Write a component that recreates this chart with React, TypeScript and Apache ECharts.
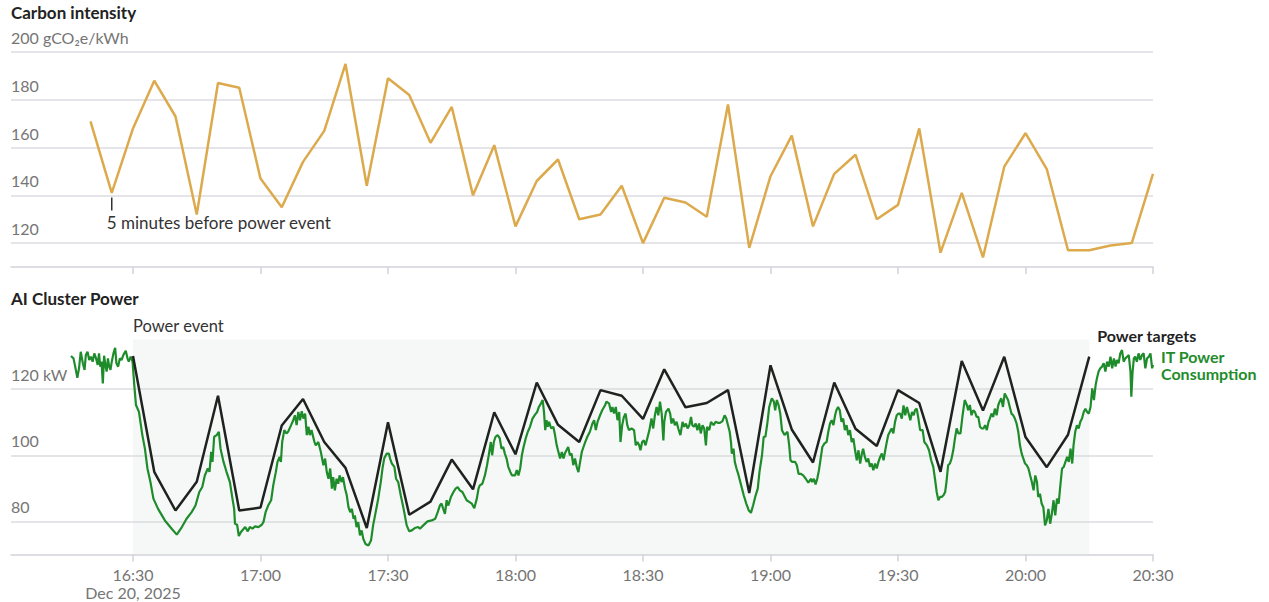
import React, { useEffect, useRef } from 'react';
import * as echarts from 'echarts';

// ---- time helpers (minutes relative to 16:30, Dec 20 2025) ----
const BASE = new Date(2025, 11, 20, 16, 30, 0).getTime();
const toTime = (m: number) => BASE + m * 60000;

// ---- axis ticks ----
const xTickMinutes = [0, 30, 60, 90, 120, 150, 180, 210, 240];
const carbonTicks = [120, 140, 160, 180, 200];
const powerTicks = [80, 100, 120];

// ---- Carbon intensity (gCO2e/kWh), every 5 minutes from 16:20 ----
const carbonStartMinute = -10;
const carbonStepMinutes = 5;
const carbonValues = [
  171, 141, 168, 188, 173, 132, 187, 185, 147, 135,
  154, 167, 195, 144, 189, 182, 162, 177, 140, 161,
  127, 146, 155, 130, 132, 144, 120, 139, 137, 131,
  178, 118, 148, 165, 127, 149, 157, 130, 136, 168,
  116, 141, 114, 152, 166, 151, 117, 117, 119, 120,
  149,
];

// ---- Power targets (kW), every 5 minutes from 16:30 ----
const targetStartMinute = 0;
const targetStepMinutes = 5;
const targetValues = [
  130, 95, 83.3, 92, 118, 83.3, 84.2, 109, 117, 104,
  96.2, 78, 110, 82, 86, 98.7, 89.7, 113, 100.3, 122,
  109.2, 104, 119.7, 118, 111, 126, 114.5, 115.8, 119.7, 88.6,
  127.2, 107.8, 97.8, 122, 108, 102.8, 119.7, 115.8, 95, 128.5,
  113.5, 129.8, 105.5, 96.4, 106.2, 129.8,
];

// ---- IT power consumption (kW): [minutes from 16:30, kW] ----
const itPower: [number, number][] = [
  [-14.6,130.0],[-14.0,129.3],[-13.6,126.8],[-13.1,123.4],[-12.7,126.3],[-12.3,131.3],[-11.8,127.8],[-11.4,125.8],[-11.1,130.3],[-10.7,131.3],
  [-10.3,128.8],[-9.9,129.8],[-9.5,128.3],[-9.1,130.8],[-8.7,129.3],[-8.3,127.3],[-8.0,130.8],[-7.7,126.8],[-7.4,128.3],[-7.1,121.7],
  [-6.8,130.1],[-6.5,127.3],[-6.2,125.3],[-5.9,129.3],[-5.6,126.8],[-5.3,125.8],[-5.0,128.3],[-4.6,130.8],[-4.2,132.5],[-3.9,127.8],
  [-3.5,126.8],[-3.1,129.3],[-2.7,128.8],[-2.2,130.5],[-1.7,131.6],[-1.3,129.3],[-1.0,128.3],[-0.55,129.8],[-0.1,128.3],[0.3,121.2],
  [0.7,115.2],[1.4,113.1],[2.2,106.1],[2.8,102.0],[3.4,96.0],[4.1,91.9],[4.8,86.9],[5.9,83.8],[7.5,80.3],[9.1,77.8],
  [10.3,76.0],[11.5,78.3],[12.6,80.8],[13.8,82.8],[14.7,84.8],[15.6,88.9],[16.3,90.4],[16.9,93.9],[17.6,96.0],[18.0,95.0],
  [18.4,101.0],[18.7,98.0],[19.1,105.6],[19.7,106.1],[20.2,107.1],[20.6,102.0],[21.3,98.0],[22.0,95.0],[22.8,91.9],[23.4,86.9],
  [23.8,83.8],[24.0,79.3],[24.5,79.0],[24.9,75.6],[25.4,76.8],
  [26.4,78.3],[27.0,77.0],[27.5,78.3],[28.1,77.8],[28.7,78.5],[29.5,78.3],[30.3,79.0],[30.7,79.8],[31.2,82.8],[31.8,84.8],
  [32.5,86.4],[33.0,90.9],[33.6,94.9],[34.0,98.0],[34.5,99.5],[34.8,98.0],[35.1,104.0],[35.6,107.6],[36.1,106.6],[36.5,107.1],
  [37.2,109.1],[37.7,110.6],[38.1,112.1],[38.5,109.1],[38.9,113.1],[39.3,110.6],[39.7,113.3],[40.1,111.1],[40.5,112.6],[40.9,106.1],
  [41.3,108.6],[41.6,106.1],[42.0,107.6],[42.7,104.0],[43.0,103.0],[43.6,104.0],[44.2,101.0],[44.8,97.0],[45.2,99.0],[45.6,94.9],
  [46.0,92.9],[46.4,96.0],[46.8,89.9],[47.1,93.4],[47.5,89.4],[47.9,92.9],[48.3,91.4],[48.6,93.9],[49.1,91.9],[49.4,93.4],
  [49.9,89.9],[50.3,87.9],[50.7,84.3],[51.1,82.8],[51.5,83.8],[51.9,80.8],[52.2,81.8],[52.6,78.3],[53.0,79.8],[53.4,75.8],
  [53.8,77.3],[54.2,74.7],[54.7,73.2],[55.4,72.7],[56.0,74.2],[56.5,78.8],[57.1,82.8],[57.7,86.9],[58.3,91.9],[58.7,96.0],
  [59.1,99.0],[59.7,100.5],[60.2,100.5],[60.5,99.0],[60.9,97.5],[61.5,96.5],[61.9,92.9],[62.4,91.9],[63.0,87.9],[63.6,84.3],
  [64.4,78.8],[65.0,77.0],[65.6,77.3],[66.3,78.0],[67.1,78.3],[67.5,77.8],[68.3,78.8],
  [69.3,80.0],[70.3,80.3],[71.1,80.8],[71.7,82.8],[72.2,84.8],[72.6,85.4],[73.0,83.8],[73.4,82.3],[73.8,86.4],[74.2,84.8],
  [74.8,87.4],[75.4,88.9],[75.9,89.9],[76.4,90.4],[76.9,89.4],[77.5,88.9],[77.9,87.9],[78.5,86.4],[79.1,85.9],[79.7,85.4],
  [80.3,84.0],[80.9,86.9],[81.3,89.9],[81.6,90.9],[82.2,91.4],[82.8,93.9],[83.3,97.0],[83.7,100.0],[84.2,104.0],[84.5,100.0],
  [84.9,104.0],[85.3,105.6],[85.8,106.1],[86.3,105.1],[86.7,102.0],[87.1,102.5],[87.5,100.5],[87.9,99.0],[88.3,96.5],[88.8,94.9],
  [89.2,93.9],[89.9,93.9],[90.3,95.5],[90.7,93.9],[91.1,96.0],[91.5,100.0],[91.9,102.5],[92.4,105.1],[92.9,107.1],[93.4,108.6],
  [94.0,111.1],[94.6,112.3],[95.1,113.1],[95.5,114.6],[96.0,115.7],[96.4,116.7],[96.7,113.1],[97.0,107.6],[97.3,110.6],[97.6,108.6],
  [97.9,110.1],[98.4,108.1],[98.9,108.6],[99.3,106.1],[99.7,103.0],[100.1,101.0],[100.5,99.0],[100.9,101.0],[101.3,99.0],[101.6,100.5],
  [102.0,101.5],[102.4,102.5],[102.8,100.0],[103.2,100.5],[103.6,97.0],[104.0,99.0],[104.4,96.5],[104.8,94.9],[105.2,98.0],[105.6,101.0],
  [106.0,102.5],[106.4,104.0],[106.9,105.6],[107.5,107.1],[108.1,109.6],[108.5,110.6],[108.9,107.6],[109.3,110.1],[109.9,112.1],[110.4,113.6],
  [111.1,115.2],[111.4,116.2],[112.0,115.7],[112.5,113.1],[112.8,114.6],[113.2,112.6],[113.6,114.6],[114.0,110.6],[114.4,113.1],[114.7,104.0],
  [115.1,109.1],[115.5,111.6],[115.9,112.6],[116.3,109.1],[116.7,107.6],[117.3,108.1],[117.9,107.6],[118.3,103.0],[118.7,104.0],[119.1,103.0],
  [119.4,101.5],[119.8,104.0],[120.2,104.5],[120.6,103.0],[121.0,105.1],[121.5,107.6],[122.0,111.1],[122.4,108.1],[122.8,112.1],[123.2,114.6],
  [123.6,112.1],[124.0,116.2],[124.4,112.6],[124.8,104.5],[125.0,110.1],[125.4,113.1],[126.0,114.1],[126.4,112.6],[126.7,109.6],[127.1,111.1],
  [127.5,109.1],[127.9,110.1],[128.3,108.1],[128.8,106.1],[129.3,110.1],[129.7,108.6],[130.1,109.6],[130.5,108.1],[130.9,109.1],[131.3,111.6],
  [131.6,109.1],[132.0,108.6],[132.4,109.6],[132.8,107.6],[133.2,109.6],[133.6,106.6],[134.0,109.1],[134.4,108.1],[134.8,103.0],[135.1,108.6],
  [135.6,107.6],[136.0,110.1],[136.6,109.1],[137.1,110.1],[137.6,109.8],[138.1,109.8],[138.7,110.3],[139.2,112.1],[139.6,111.1],[140.0,109.1],
  [140.4,107.1],[140.7,104.0],[140.9,100.5],[141.3,102.0],[141.6,98.0],[142.0,96.0],[142.5,93.9],[143.1,90.9],[143.7,87.9],[144.3,85.4],
  [144.9,83.3],[145.4,82.6],[145.9,84.8],[146.4,87.4],[147.0,89.9],[147.4,94.9],[148.0,100.0],[148.4,105.6],[148.8,105.6],[149.3,110.1],
  [149.7,114.6],[150.3,117.2],[150.8,116.2],[151.1,113.6],[151.5,116.7],[151.9,115.2],[152.3,112.6],[152.7,107.6],[153.3,106.1],
  [154.0,107.1],[154.4,103.0],[154.7,98.5],[155.1,98.0],[155.8,98.0],[156.2,97.0],[156.6,94.4],[157.1,94.4],[157.7,93.9],[158.3,92.9],
  [158.9,91.7],[159.5,92.9],[159.8,91.9],[160.2,92.9],[160.6,91.2],[161.0,92.9],[161.4,95.5],[161.8,99.0],[162.2,102.5],[162.7,103.6],
  [163.2,104.0],[163.6,107.1],[164.0,109.6],[164.4,110.6],[164.8,109.1],[165.2,112.1],[165.5,113.6],[165.9,114.6],[166.3,113.6],[166.7,110.1],
  [167.1,111.1],[167.5,107.6],[167.9,109.1],[168.3,106.1],[168.7,107.6],[169.1,104.0],[169.5,105.1],[169.9,101.5],[170.3,98.5],[170.7,101.5],
  [171.1,97.5],[171.5,100.5],[171.8,102.0],[172.2,99.5],[172.6,98.0],[173.0,99.0],[173.4,96.5],[173.8,97.5],[174.2,95.5],[174.6,97.5],
  [175.0,96.0],[175.4,98.0],[175.8,99.5],[176.2,100.5],[176.6,98.5],[177.0,101.5],[177.3,103.6],[177.7,106.1],[178.1,107.1],[178.5,108.1],
  [178.9,106.6],[179.3,110.1],[179.7,112.1],[180.1,112.6],[180.5,112.6],[180.9,111.1],[181.3,115.1],[181.7,112.1],[182.1,114.6],[182.5,112.6],
  [182.9,110.6],[183.3,113.1],[183.7,112.1],[184.0,113.6],[184.4,114.1],[184.8,111.1],[185.2,107.6],[185.8,107.6],[186.2,104.0],[186.8,103.0],
  [187.3,101.5],[187.8,98.5],[188.3,96.5],[188.7,92.9],[189.1,88.9],[189.5,86.4],[189.9,87.4],[190.3,87.4],[190.7,87.9],[191.1,88.9],
  [191.4,91.9],[191.8,97.0],[192.2,97.5],[192.6,99.0],[193.0,101.5],[193.4,105.1],[193.8,108.1],[194.2,106.6],[194.7,106.6],[195.2,112.1],
  [195.7,116.7],
  [196.2,115.2],[196.5,113.6],[196.9,115.2],[197.3,112.1],[197.7,113.6],[198.1,113.1],[198.5,111.6],[198.9,111.6],[199.3,108.6],[199.7,108.1],
  [200.1,108.1],[200.5,109.1],[200.9,107.6],[201.3,110.1],[201.6,111.1],[202.0,112.6],[202.4,111.6],[202.8,114.1],[203.2,112.1],[203.6,115.2],
  [203.9,116.2],[204.3,117.2],[204.7,114.6],[205.1,118.7],[205.5,117.7],[205.9,116.7],[206.3,114.6],[206.7,112.6],[207.1,112.1],[207.5,111.1],
  [207.9,109.6],[208.3,107.1],[208.7,103.0],[209.1,100.5],[209.5,99.0],[209.9,97.5],[210.3,97.0],[210.7,96.0],[211.1,93.9],[211.5,91.9],
  [211.9,89.4],[212.3,93.9],[212.7,91.9],[213.0,87.4],[213.4,88.4],[213.8,85.4],[214.2,84.3],[214.6,78.8],[215.0,80.3],[215.4,83.8],
  [215.8,79.3],[216.2,82.3],[216.6,86.4],[217.0,81.8],[217.4,86.9],[217.8,85.4],[218.2,90.9],[218.6,96.0],[219.0,96.5],[219.4,98.0],
  [219.8,99.5],[220.2,98.0],[220.6,102.0],[221.0,97.5],[221.3,103.0],[221.7,107.1],[222.1,109.1],[222.5,108.1],[222.9,110.1],[223.3,111.1],
  [223.7,113.1],[224.1,114.1],[224.5,113.1],[224.9,112.6],[225.3,114.6],[225.7,120.2],[226.1,116.7],[226.5,121.2],[226.8,123.2],[227.2,125.3],
  [227.6,126.3],[228.0,126.8],[228.4,127.8],[228.8,125.3],[229.2,128.3],[229.6,126.8],[230.0,129.8],[230.4,126.3],[230.8,129.3],[231.2,126.8],
  [231.5,128.8],[231.9,127.8],[232.3,130.8],[232.7,131.8],[233.1,128.3],[233.5,129.3],[233.9,129.8],[234.3,130.3],[234.7,125.3],[234.9,117.7],
  [235.2,125.3],[235.5,129.3],[235.8,129.8],[236.2,128.3],[236.6,130.8],[237.0,128.8],[237.4,130.3],[237.8,130.8],[238.2,126.3],[238.6,129.3],
  [239.0,129.8],[239.4,130.8],[239.8,126.3],[240.0,127.3],
];

// power event window (minutes from 16:30) and annotation
const powerEventStart = 0;
const powerEventEnd = 225;
const annotationMinute = -5;
const annotationValue = 141;

const FONT = 'Lato, "Noto Sans", "DejaVu Sans", sans-serif';
const GRID_COLOR = '#dcdce2';
const AXIS_COLOR = '#d2d2da';
const LABEL_COLOR = '#757575';
const CARBON_COLOR = '#dcaa4c';
const TARGET_COLOR = '#1f231f';
const GREEN = '#1f8c2c';

const pad2 = (n: number) => (n < 10 ? '0' + n : String(n));

export default function App() {
  const ref = useRef<HTMLDivElement>(null);

  useEffect(() => {
    document.body.style.margin = '0';
    if (!ref.current) return;
    const chart = echarts.init(ref.current, undefined, { renderer: 'svg' });

    const xMin = toTime(-28.706);
    const xMax = toTime(240);
    const xTicks = xTickMinutes.map(toTime);

    const carbonData = carbonValues.map((v, i) => [toTime(carbonStartMinute + i * carbonStepMinutes), v]);
    const targetData = targetValues.map((v, i) => [toTime(targetStartMinute + i * targetStepMinutes), v]);
    const greenData = itPower.map(([m, v]) => [toTime(m), v]);

    const timeFmt = (val: number) => {
      const d = new Date(val);
      const s = d.getHours() + ':' + pad2(d.getMinutes());
      return Math.abs(val - toTime(0)) < 1000 ? s + '\nDec 20, 2025' : s;
    };

    const xAxisCommon = {
      type: 'value',
      min: xMin,
      max: xMax,
      scale: true,
      axisLine: { show: true, onZero: false, lineStyle: { color: AXIS_COLOR, width: 1.5 } },
      axisTick: { show: true, length: 7, customValues: xTicks, lineStyle: { color: AXIS_COLOR, width: 1.5 } },
      splitLine: { show: false },
      minorTick: { show: false },
    };

    const yLabel = {
      inside: true,
      margin: 0,
      verticalAlign: 'bottom',
      padding: [0, 0, 6.5, 0],
      color: LABEL_COLOR,
      fontSize: 16,
      fontFamily: FONT,
    };

    const titleStyle = { fontSize: 17, fontWeight: 'bold', color: '#222', fontFamily: FONT };

    const option: any = {
      animation: false,
      textStyle: { fontFamily: FONT },
      title: [
        { text: 'Carbon intensity', left: 11, top: 4, padding: 0, textStyle: titleStyle },
        { text: 'AI Cluster Power', left: 11, top: 290, padding: 0, textStyle: titleStyle },
      ],
      grid: [
        { left: 11, right: 116, top: 52, height: 215 },
        { left: 11, right: 116, top: 339.5, height: 215 },
      ],
      xAxis: [
        { ...xAxisCommon, gridIndex: 0, axisLabel: { show: false } },
        {
          ...xAxisCommon,
          gridIndex: 1,
          axisLabel: {
            show: true,
            customValues: xTicks,
            formatter: timeFmt,
            color: LABEL_COLOR,
            fontSize: 16,
            lineHeight: 18,
            margin: 10.5,
            fontFamily: FONT,
          },
        },
      ],
      yAxis: [
        {
          type: 'value',
          gridIndex: 0,
          min: 110,
          max: 200,
          axisLine: { show: false },
          axisTick: { show: false, customValues: carbonTicks },
          axisLabel: {
            ...yLabel,
            customValues: carbonTicks,
            formatter: (v: number) => (v === 200 ? '200 gCO₂e/kWh' : String(v)),
          },
          splitLine: { show: true, lineStyle: { color: GRID_COLOR, width: 1.5 } },
        },
        {
          type: 'value',
          gridIndex: 1,
          min: 70,
          max: 135,
          axisLine: { show: false },
          axisTick: { show: false, customValues: powerTicks },
          axisLabel: {
            ...yLabel,
            customValues: powerTicks,
            formatter: (v: number) => (v === 120 ? '120 kW' : String(v)),
          },
          splitLine: { show: true, lineStyle: { color: GRID_COLOR, width: 1.5 } },
        },
      ],
      series: [
        {
          name: 'Carbon intensity',
          type: 'line',
          xAxisIndex: 0,
          yAxisIndex: 0,
          data: carbonData,
          showSymbol: false,
          lineStyle: { color: CARBON_COLOR, width: 2.5 },
          itemStyle: { color: CARBON_COLOR },
          markPoint: {
            silent: true,
            data: [
              {
                coord: [toTime(annotationMinute), annotationValue],
                symbol: 'rect',
                symbolSize: [1.5, 13],
                symbolOffset: [0, 11],
                itemStyle: { color: '#333' },
                label: {
                  show: true,
                  position: 'bottom',
                  distance: 3.5,
                  align: 'left',
                  offset: [-5, 0],
                  formatter: '5 minutes before power event',
                  color: '#333',
                  fontSize: 17,
                  fontFamily: FONT,
                },
              },
            ],
          },
        },
        {
          name: 'IT Power Consumption',
          type: 'line',
          xAxisIndex: 1,
          yAxisIndex: 1,
          data: greenData,
          showSymbol: false,
          lineStyle: { color: GREEN, width: 2.2 },
          itemStyle: { color: GREEN },
          endLabel: {
            show: true,
            formatter: 'IT Power\nConsumption',
            color: GREEN,
            fontWeight: 'bold',
            fontSize: 16,
            lineHeight: 17,
            distance: 8,
            fontFamily: FONT,
          },
          markArea: {
            silent: true,
            itemStyle: { color: 'rgba(205,218,210,0.2)' },
            label: {
              show: true,
              position: [0, -14],
              align: 'left',
              verticalAlign: 'middle',
              color: '#333',
              fontSize: 16.5,
              fontFamily: FONT,
            },
            data: [[{ name: 'Power event', xAxis: toTime(powerEventStart) }, { xAxis: toTime(powerEventEnd) }]],
          },
        },
        {
          name: 'Power targets',
          type: 'line',
          xAxisIndex: 1,
          yAxisIndex: 1,
          data: targetData,
          showSymbol: false,
          lineStyle: { color: TARGET_COLOR, width: 2.5 },
          itemStyle: { color: TARGET_COLOR },
          endLabel: {
            show: true,
            formatter: 'Power targets',
            color: '#222',
            fontWeight: 'bold',
            fontSize: 16,
            offset: [0, -21],
            fontFamily: FONT,
          },
        },
      ],
    };

    chart.setOption(option);
    return () => chart.dispose();
  }, []);

  return <div ref={ref} style={{ width: 1269, height: 602 }} />;
}
